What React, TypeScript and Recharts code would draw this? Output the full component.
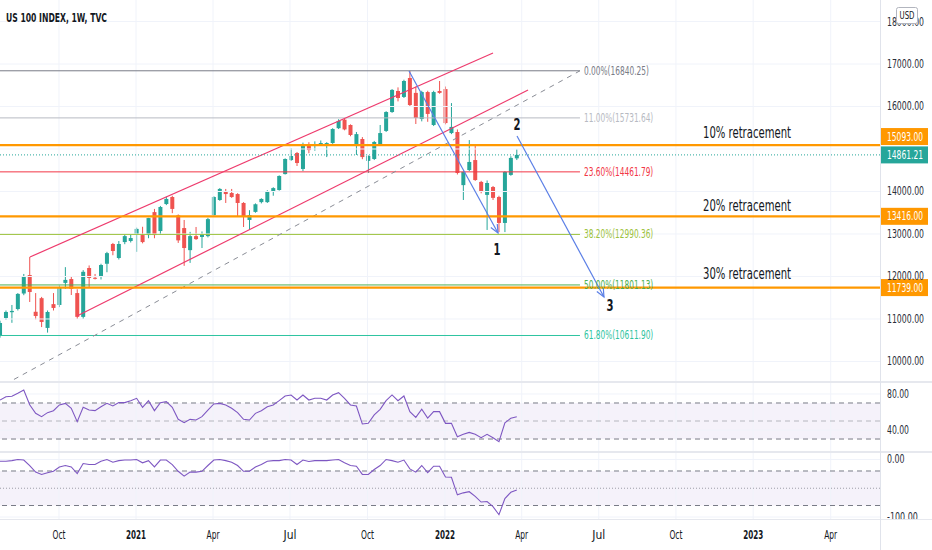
import React from 'react';
import {
  ComposedChart,
  Bar,
  Line,
  XAxis,
  YAxis,
  ReferenceLine,
  ReferenceArea,
  ReferenceDot,
} from 'recharts';

// ---------------- data ----------------
const OPEN = [10600, 11024, 11160, 11235, 11600, 12035, 11170, 11490, 10790, 11350, 11330, 11850, 11940, 11610, 11050, 12200, 11970, 11990, 12300, 12765, 12435, 12810, 12835, 13000, 12975, 12975, 13515, 13070, 13705, 13870, 13440, 13140, 12620, 12950, 12930, 12950, 13445, 13800, 14010, 13965, 13940, 13730, 13330, 13520, 13750, 13750, 14010, 14035, 14410, 14740, 14905, 14530, 15070, 15070, 15115, 15130, 15140, 15490, 15690, 15565, 15070, 15235, 14720, 14765, 15095, 15425, 15870, 16365, 16225, 16670, 16320, 15705, 16340, 15565, 16365, 16410, 15375, 15400, 14150, 14505, 14740, 14225, 13920, 14105, 13870, 13260, 14390, 14780];
const HIGH = [10960, 11200, 11330, 11610, 12060, 12460, 11610, 11520, 11200, 11610, 11790, 12220, 12000, 11700, 12150, 12260, 12060, 12300, 12580, 12790, 12835, 12980, 12990, 13150, 13170, 13380, 13590, 13660, 13880, 13900, 13460, 13330, 13050, 13165, 13060, 13380, 13890, 14080, 14060, 14060, 13960, 13750, 13560, 13720, 13840, 14030, 14100, 14380, 14780, 15020, 14930, 15150, 15160, 15180, 15200, 15160, 15490, 15700, 15710, 15580, 15400, 15280, 14850, 15190, 15565, 15890, 16410, 16450, 16630, 16840.25, 16466, 16370, 16370, 16370, 16600, 16470, 16080, 15460, 14480, 15210, 15095, 14250, 14260, 14130, 13900, 14480, 14830, 14993];
const LOW = [10560, 10980, 10910, 11200, 11560, 11400, 10990, 10810, 10680, 11200, 11280, 11710, 11565, 11000, 11000, 11750, 11930, 11930, 12100, 12500, 12400, 12760, 12800, 12580, 12780, 12900, 12900, 12990, 13680, 13490, 12790, 12250, 12320, 12860, 12670, 12920, 13430, 13780, 13730, 13850, 13400, 13165, 13095, 13500, 13720, 13730, 13900, 14020, 14400, 14720, 14600, 14480, 14900, 14960, 15090, 14810, 15120, 15470, 15440, 15300, 14860, 14760, 14435, 14740, 15080, 15400, 15850, 16120, 16200, 16000, 15588, 15650, 15640, 15540, 16300, 15580, 15350, 14400, 13800, 14480, 14250, 13957, 13095, 13800, 13045, 13045, 14370, 14740];
const CLOSE = [10906, 11165, 11190, 11590, 12010, 11635, 11070, 10930, 11165, 11260, 11750, 11920, 11710, 11050, 12110, 11965, 11950, 12270, 12550, 12600, 12765, 12950, 12905, 13120, 12810, 13375, 12975, 13635, 13825, 13590, 12850, 12670, 12950, 12880, 13000, 13350, 13870, 14060, 13940, 13870, 13730, 13400, 13445, 13700, 13825, 14010, 14080, 14365, 14765, 14835, 14670, 15115, 14975, 15115, 15140, 15140, 15470, 15660, 15460, 15330, 15350, 14810, 14835, 15165, 15375, 15870, 16390, 16200, 16600, 16035, 15730, 16340, 15825, 16340, 16320, 15610, 15520, 14435, 14460, 14695, 14270, 14010, 14200, 13850, 13260, 14460, 14790, 14861.21];

const RSI = [73.3, 77, 77.5, 80.7, 84.4, 68, 58.5, 54.8, 59.3, 61.5, 67.8, 69.6, 64.1, 49.3, 65.2, 62.2, 61.5, 65.9, 69.6, 66.7, 70.4, 70.4, 72.6, 75.2, 65.2, 72.6, 61.5, 70.4, 71.5, 65.2, 51.9, 48.1, 51.9, 51.1, 54.8, 62.2, 68.9, 69.6, 67.8, 64.1, 59.3, 51.9, 51.1, 58.5, 61.5, 65.9, 67.8, 72.6, 77.8, 78.9, 73.3, 78.9, 73.3, 75.2, 75.2, 73.3, 78.9, 81.5, 75.2, 67.8, 66.7, 46.7, 47.4, 56.7, 63, 72.6, 78.9, 72.6, 77.8, 60.4, 54.1, 63, 53.3, 60.4, 60.4, 47.4, 47.4, 32.6, 35.2, 37.4, 35.2, 31.5, 35.2, 31.5, 27, 48.1, 53, 54.8];
const WPR = [-3, -3, -2, 0, -1, -10.5, -22, -26, -23, -20.5, -13, -10.5, -13, -24.6, -7, -8.8, -8.8, -3, 0, -4.7, -2, -1, -1, 0, -5.8, -2, -13, -1, -1, -8.8, -20.5, -29, -22, -22, -20.5, -10.5, -1, 0, -2, -4.7, -10.5, -20.5, -20.5, -13, -8.8, -3, -2, -2, 0, -1, -8.8, -1, -3.5, -2, -2, -2, -1, 0, -5.8, -10.5, -11.7, -26, -26, -17.5, -10.5, 0, -2, -4.7, -1, -16.4, -22, -10.5, -23, -11.7, -11.7, -30.4, -31, -61.4, -58, -56, -64, -74, -73, -82, -96, -68, -57, -53];

const MONTH_TICKS = [9.93, 22.9, 35.86, 48.82, 61.87, 74.9, 87.83, 100.8, 113.8, 126.8, 139.85];
const MONTH_LABELS = ['Oct', '2021', 'Apr', 'Jul', 'Oct', '2022', 'Apr', 'Jul', 'Oct', '2023', 'Apr'];
const PRICE_TICKS = [10000, 11000, 12000, 13000, 14000, 16000, 17000, 18000];
const PRICE_GRID = [10000, 11000, 12000, 13000, 14000, 15000, 16000, 17000, 18000];
const RSI_TICKS = [80, 40];
const WPR_TICKS = [0, -100];

const FIB_HIGH = 16840.25;
const FIB_LOW = 6762.014;
const FIB_LEVELS = [0, 0.11, 0.236, 0.382, 0.5, 0.618];
const FIB_END_X = 97.64;
const FIB_LOW_X = -34.6;

const KEY_LEVELS = [15093, 13416, 11739];
const KEY_NAMES = ['10% retracement', '20% retracement', '30% retracement'];
const KEY_NAME_PRICES = [15376, 13659, 12059];
const KEY_NAME_X = 125.76;
const LAST_PRICE = 14861.21;

const CHANNEL_UPPER = [[5.05, 12459], [83.0, 17259]];
const CHANNEL_LOWER = [[12.96, 11071], [88.9, 16388]];
const ARROWS = [
  [[68.86, 16835], [83.84, 13024]],
  [[87.04, 15306], [101.68, 11518]],
];
const WAVE_LABELS = ['1', '2', '3'];
const WAVE_POS = [[83.67, 12624], [87.04, 15565], [102.7, 11306]];

// ---------------- styles ----------------
const FONT = '"Liberation Sans Narrow","DejaVu Sans Condensed","Liberation Sans",Arial,sans-serif';
const UP = '#26a69a';
const DOWN = '#ef5350';
const BLUE = '#5b7fe6';
const PINK = '#ee3b6d';
const ORANGE = '#ff9800';
const GRID = '#f0f3fa';
const PURPLE = '#7e57c2';
const FIB_COLORS = ['#787b86', '#b7bac2', '#f23645', '#9cc23c', '#4caf50', '#2ec4a0'];
const TAG_SHIFT: Record<string, number> = { '15093': -8.5 };
const X_DOMAIN: [number, number] = [0, 148.15];
const Y_DOMAIN: [number, number] = [9517.6, 18505.9];
const RSI_DOMAIN: [number, number] = [15.6, 93.3];
const WPR_DOMAIN: [number, number] = [-105.2, 13];
const AXIS_TEXT_X = 887;

const candles = OPEN.map((o, i) => ({
  i,
  open: o,
  high: HIGH[i],
  low: LOW[i],
  close: CLOSE[i],
  range: [LOW[i], HIGH[i]],
}));
const osc = RSI.map((r, i) => ({ i, rsi: r, wpr: WPR[i] }));

// ---------------- helpers ----------------
function NText(props: {
  x: number;
  y: number;
  text: string;
  size?: number;
  fill?: string;
  w?: number;
  anchor?: 'start' | 'middle' | 'end';
  weight?: number;
  clip?: string;
}) {
  const { x, y, text, size = 12, fill = '#131722', w, anchor = 'start', weight = 400, clip } = props;
  return (
    <text
      x={x}
      y={y}
      fontSize={size}
      fill={fill}
      textAnchor={anchor}
      dominantBaseline="central"
      fontWeight={weight}
      fontFamily={FONT}
      textLength={w}
      lengthAdjust="spacingAndGlyphs"
      clipPath={clip}
    >
      {text}
    </text>
  );
}

const Candle = (p: any) => {
  const { x, y, width, height, payload } = p;
  if (!payload || !Number.isFinite(y) || !Number.isFinite(height)) return null;
  const { open, close, high, low } = payload;
  const top = Math.min(y, y + height);
  const h = Math.abs(height);
  const span = high - low || 1;
  const py = (v: number) => top + ((high - v) / span) * h;
  const up = close >= open;
  const color = up ? UP : DOWN;
  const cx = x + width / 2;
  const bTop = py(Math.max(open, close));
  const bH = Math.max(1, Math.abs(py(open) - py(close)));
  return (
    <g>
      <line x1={cx} x2={cx} y1={top} y2={top + h} stroke={color} strokeWidth={1} />
      <rect x={cx - 2} y={bTop} width={4} height={bH} fill={color} />
    </g>
  );
};

const ArrowShape = (p: any) => {
  const x1 = +p.x1, y1 = +p.y1, x2 = +p.x2, y2 = +p.y2;
  if (![x1, y1, x2, y2].every(Number.isFinite)) return null;
  const ang = Math.atan2(y2 - y1, x2 - x1);
  const L = 9;
  const s = 0.42;
  const a1x = x2 - L * Math.cos(ang - s), a1y = y2 - L * Math.sin(ang - s);
  const a2x = x2 - L * Math.cos(ang + s), a2y = y2 - L * Math.sin(ang + s);
  return (
    <g>
      <line x1={x1} y1={y1} x2={x2} y2={y2} stroke={BLUE} strokeWidth={1.2} />
      <polyline points={`${a1x},${a1y} ${x2},${y2} ${a2x},${a2y}`} fill="none" stroke={BLUE} strokeWidth={1.2} />
    </g>
  );
};

const PriceTick = (p: any) => {
  const v = p.payload?.value;
  if (v == null) return null;
  return <NText x={AXIS_TEXT_X} y={p.y} text={Number(v).toFixed(2)} w={37} size={12} fill="#2a2e39" />;
};

const OscTick = (p: any) => {
  const v = p.payload?.value;
  if (v == null) return null;
  const t = Number(v).toFixed(2);
  return <NText x={AXIS_TEXT_X} y={p.y} text={t} w={t.length * 4.4} size={12} fill="#2a2e39" clip="url(#wprClip)" />;
};

const TimeTick = (p: any) => {
  const v = p.payload?.value;
  const idx = MONTH_TICKS.indexOf(v);
  if (idx < 0) return null;
  const label = MONTH_LABELS[idx];
  const isYear = /^\d{4}$/.test(label);
  return (
    <NText
      x={p.x}
      y={83}
      text={label}
      anchor="middle"
      w={isYear ? 20 : 13}
      size={12}
      weight={isYear ? 700 : 400}
      fill="#131722"
    />
  );
};

const fibValue = (lvl: number) => FIB_HIGH - lvl * (FIB_HIGH - FIB_LOW);

// ---------------- app ----------------
export default function App() {
  return (
    <div
      style={{
        position: 'absolute',
        left: 0,
        top: 0,
        width: 932,
        height: 550,
        background: '#ffffff',
        overflow: 'hidden',
      }}
    >
      {/* main price pane */}
      <div style={{ position: 'absolute', left: 0, top: 0 }}>
        <ComposedChart width={932} height={382} data={candles} margin={{ top: 0, right: 0, bottom: 0, left: 0 }}>
          <XAxis dataKey="i" type="number" domain={X_DOMAIN} allowDataOverflow hide />
          <YAxis
            orientation="right"
            width={52}
            type="number"
            domain={Y_DOMAIN}
            allowDataOverflow
            ticks={PRICE_TICKS}
            interval={0}
            axisLine={false}
            tickLine={false}
            tick={<PriceTick />}
          />
          {PRICE_GRID.map((v) => (
            <ReferenceLine key={'hg' + v} y={v} stroke={GRID} strokeWidth={1} />
          ))}
          {MONTH_TICKS.map((t) => (
            <ReferenceLine key={'vg' + t} x={t} stroke={GRID} strokeWidth={1} />
          ))}

          {/* fib levels */}
          {FIB_LEVELS.map((lvl, k) => (
            <ReferenceLine
              key={'fib' + k}
              segment={[
                { x: 0, y: fibValue(lvl) },
                { x: FIB_END_X, y: fibValue(lvl) },
              ]}
              stroke={FIB_COLORS[k]}
              strokeWidth={1}
              ifOverflow="hidden"
            />
          ))}
          <ReferenceLine
            segment={[
              { x: FIB_LOW_X, y: FIB_LOW },
              { x: FIB_END_X, y: FIB_HIGH },
            ]}
            stroke="#8a8d96"
            strokeWidth={1}
            strokeDasharray="5 5"
            ifOverflow="hidden"
          />

          {/* channel */}
          <ReferenceLine
            segment={[
              { x: CHANNEL_UPPER[0][0], y: CHANNEL_UPPER[0][1] },
              { x: CHANNEL_UPPER[1][0], y: CHANNEL_UPPER[1][1] },
            ]}
            stroke={PINK}
            strokeWidth={1.2}
            ifOverflow="hidden"
          />
          <ReferenceLine
            segment={[
              { x: CHANNEL_LOWER[0][0], y: CHANNEL_LOWER[0][1] },
              { x: CHANNEL_LOWER[1][0], y: CHANNEL_LOWER[1][1] },
            ]}
            stroke={PINK}
            strokeWidth={1.2}
            ifOverflow="hidden"
          />

          {/* key horizontal levels */}
          {KEY_LEVELS.map((v) => (
            <ReferenceLine key={'key' + v} y={v} stroke={ORANGE} strokeWidth={2.2} />
          ))}
          <ReferenceLine y={LAST_PRICE} stroke={UP} strokeWidth={1} strokeDasharray="1 2" />

          <Bar dataKey="range" barSize={4} isAnimationActive={false} shape={(p: any) => <Candle {...p} />} />

          {/* arrows */}
          {ARROWS.map((a, k) => (
            <ReferenceLine
              key={'arr' + k}
              segment={[
                { x: a[0][0], y: a[0][1] },
                { x: a[1][0], y: a[1][1] },
              ]}
              stroke={BLUE}
              ifOverflow="visible"
              shape={(p: any) => <ArrowShape {...p} />}
            />
          ))}

          {/* fib labels */}
          {FIB_LEVELS.map((lvl, k) => {
            const txt = `${(lvl * 100).toFixed(2)}%(${fibValue(lvl).toFixed(2)})`;
            return (
              <ReferenceDot
                key={'fl' + k}
                x={FIB_END_X}
                y={fibValue(lvl)}
                r={0}
                ifOverflow="visible"
                shape={(p: any) => (
                  <NText x={p.cx + 4} y={p.cy} text={txt} w={txt.length * 4.33} size={12} fill={FIB_COLORS[k]} />
                )}
              />
            );
          })}

          {/* key level names */}
          {KEY_NAMES.map((n, k) => (
            <ReferenceDot
              key={'kn' + k}
              x={KEY_NAME_X}
              y={KEY_NAME_PRICES[k]}
              r={0}
              ifOverflow="visible"
              shape={(p: any) => (
                <NText x={p.cx} y={p.cy} text={n} anchor="middle" w={88} size={15} fill="#131722" />
              )}
            />
          ))}

          {/* wave labels */}
          {WAVE_LABELS.map((n, k) => (
            <ReferenceDot
              key={'wl' + k}
              x={WAVE_POS[k][0]}
              y={WAVE_POS[k][1]}
              r={0}
              ifOverflow="visible"
              shape={(p: any) => (
                <NText x={p.cx} y={p.cy} text={n} anchor="middle" w={7} size={15} weight={700} fill="#131722" />
              )}
            />
          ))}

          {/* price tags */}
          {[...KEY_LEVELS, LAST_PRICE].map((v) => {
            const isLast = v === LAST_PRICE;
            const txt = v.toFixed(2);
            const shift = TAG_SHIFT[String(v)] || 0;
            return (
              <ReferenceDot
                key={'tag' + v}
                x={X_DOMAIN[1]}
                y={v}
                r={0}
                ifOverflow="visible"
                shape={(p: any) => (
                  <g>
                    <rect x={p.cx} y={p.cy + shift - 8.5} width={48} height={17} fill={isLast ? UP : ORANGE} />
                    <NText x={p.cx + 7} y={p.cy + shift} text={txt} w={36} size={12} fill="#ffffff" />
                  </g>
                )}
              />
            );
          })}
        </ComposedChart>
      </div>

      {/* RSI pane */}
      <div style={{ position: 'absolute', left: 0, top: 382 }}>
        <ComposedChart width={932} height={70} data={osc} margin={{ top: 0, right: 0, bottom: 0, left: 0 }}>
          <XAxis dataKey="i" type="number" domain={X_DOMAIN} allowDataOverflow hide />
          <YAxis
            orientation="right"
            width={52}
            type="number"
            domain={RSI_DOMAIN}
            allowDataOverflow
            ticks={RSI_TICKS}
            interval={0}
            axisLine={false}
            tickLine={false}
            tick={<OscTick />}
          />
          {RSI_TICKS.map((v) => (
            <ReferenceLine key={'rg' + v} y={v} stroke={GRID} />
          ))}
          {MONTH_TICKS.map((t) => (
            <ReferenceLine key={'rv' + t} x={t} stroke={GRID} />
          ))}
          <ReferenceArea x1={X_DOMAIN[0]} x2={X_DOMAIN[1]} y1={30} y2={70} fill={PURPLE} fillOpacity={0.08} stroke="none" />
          <ReferenceLine y={70} stroke="#787b86" strokeDasharray="5 4" />
          <ReferenceLine y={50} stroke="#787b86" strokeOpacity={0.5} strokeDasharray="5 4" />
          <ReferenceLine y={30} stroke="#787b86" strokeDasharray="5 4" />
          <Line dataKey="rsi" stroke={PURPLE} strokeWidth={1.1} dot={false} isAnimationActive={false} />
        </ComposedChart>
      </div>

      {/* Williams %R pane + time axis */}
      <div style={{ position: 'absolute', left: 0, top: 452 }}>
        <svg width={0} height={0} style={{ position: 'absolute' }}>
          <defs>
            <clipPath id="wprClip" clipPathUnits="userSpaceOnUse">
              <rect x={0} y={0} width={932} height={68} />
            </clipPath>
          </defs>
        </svg>
        <ComposedChart width={932} height={98} data={osc} margin={{ top: 0, right: 0, bottom: 0, left: 0 }}>
          <XAxis
            dataKey="i"
            type="number"
            domain={X_DOMAIN}
            allowDataOverflow
            ticks={MONTH_TICKS}
            interval={0}
            height={30}
            axisLine={false}
            tickLine={false}
            tick={<TimeTick />}
          />
          <YAxis
            orientation="right"
            width={52}
            type="number"
            domain={WPR_DOMAIN}
            allowDataOverflow
            ticks={WPR_TICKS}
            interval={0}
            axisLine={false}
            tickLine={false}
            tick={<OscTick />}
          />
          {WPR_TICKS.map((v) => (
            <ReferenceLine key={'wg' + v} y={v} stroke={GRID} />
          ))}
          {MONTH_TICKS.map((t) => (
            <ReferenceLine key={'wv' + t} x={t} stroke={GRID} />
          ))}
          <ReferenceArea x1={X_DOMAIN[0]} x2={X_DOMAIN[1]} y1={-80} y2={-20} fill={PURPLE} fillOpacity={0.08} stroke="none" />
          <ReferenceLine y={-20} stroke="#787b86" strokeDasharray="5 4" />
          <ReferenceLine y={-50} stroke="#787b86" strokeOpacity={0.7} strokeDasharray="1 2" />
          <ReferenceLine y={-80} stroke="#787b86" strokeDasharray="5 4" />
          <Line dataKey="wpr" stroke={PURPLE} strokeWidth={1.1} dot={false} isAnimationActive={false} />
        </ComposedChart>
      </div>

      {/* pane separators */}
      <div style={{ position: 'absolute', left: 0, top: 381, width: 932, height: 2, background: '#e6e8ee' }} />
      <div style={{ position: 'absolute', left: 0, top: 451, width: 932, height: 2, background: '#e6e8ee' }} />
      <div style={{ position: 'absolute', left: 0, top: 519, width: 932, height: 1, background: '#e6e8ee' }} />
      <div style={{ position: 'absolute', left: 880, top: 0, width: 1, height: 550, background: '#e0e3eb' }} />

      {/* title and currency badge */}
      <svg width={932} height={40} style={{ position: 'absolute', left: 0, top: 0, pointerEvents: 'none' }}>
        <NText x={6} y={17} text="US 100 INDEX, 1W, TVC" w={101} size={13} weight={700} fill="#131722" />
        <rect x={896.5} y={7.5} width={21} height={16} rx={2} fill="#ffffff" stroke="#b2b5be" />
        <NText x={907} y={15.5} text="USD" anchor="middle" w={15} size={10} fill="#131722" />
      </svg>
    </div>
  );
}
